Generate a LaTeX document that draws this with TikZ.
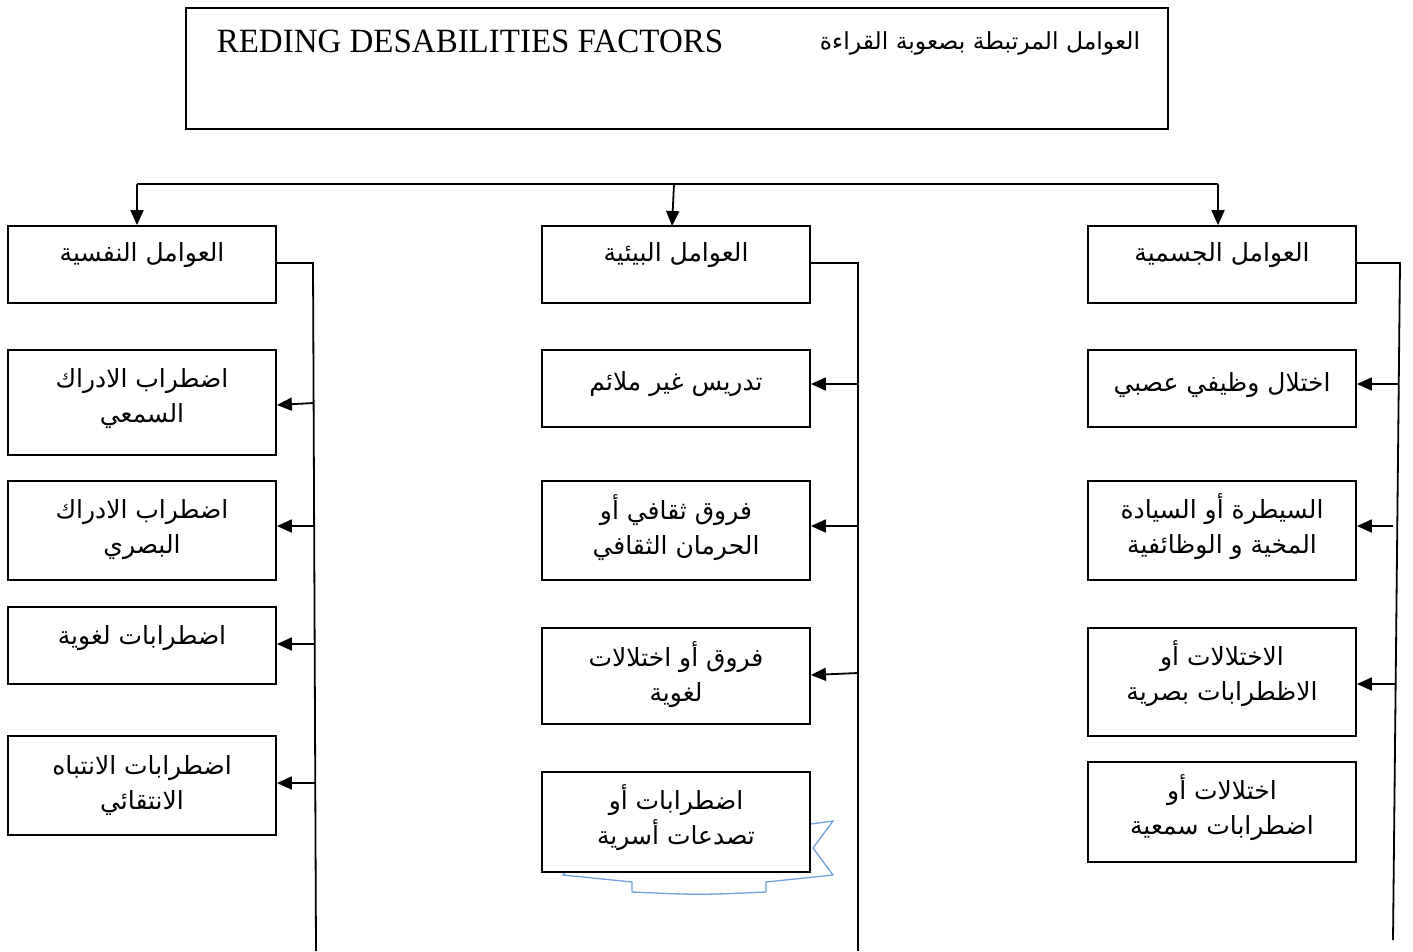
\documentclass[tikz,border=0pt]{standalone}
\usepackage{fontspec}
\setmainfont{Liberation Serif}
\newfontfamily\arabicfont[Script=Arabic]{DejaVu Sans}
\TeXXeTstate=1
\usetikzlibrary{arrows.meta,calc}
\definecolor{ribbonblue}{RGB}{112,160,222}
\newcommand\arl[1]{\beginR #1\endR}
\begin{document}
\begin{tikzpicture}[x=1pt,y=-1pt,line width=1.8pt,
  box/.style={draw,rectangle,fill=white,inner sep=0pt,minimum width=268pt},
  boxtxt/.style={anchor=base,inner sep=0pt,align=center,font=\arabicfont\fontsize{25}{35}\selectfont},
  arr/.style={-{Triangle[length=15pt,width=13pt]}},
  ribbon/.style={draw=ribbonblue,line width=1.3pt}]
\useasboundingbox (0,0) rectangle (1413,951);

% title
\node[draw,rectangle,inner sep=0pt,minimum width=982pt,minimum height=121pt] (title) at (677,68.5) {};
\node[inner sep=0pt,font=\fontsize{34}{40}\selectfont,xscale=0.97] (ttl) at (470,41) {REDING DESABILITIES FACTORS};
\node[inner sep=0pt,font=\arabicfont\fontsize{23.5}{30}\selectfont] (tta) at (980,43) {\arl{العوامل المرتبطة بصعوبة  القراءة}};

% ribbon (behind m4)
\draw[ribbon] (833,821) -- (813,848) -- (833,875) .. controls (800,879) .. (766,882) -- (766,892)
  .. controls (699,895) .. (632,892) -- (632,882) .. controls (598,879) .. (563,875)
  -- (583,848) -- (563,821) -- (632,830) -- (632,810) -- (766,810) -- (766,830) -- cycle;

% headers
\node[box,minimum height=77pt] (h1) at (142,264.5) {};
\node[box,minimum height=77pt] (h2) at (676,264.5) {};
\node[box,minimum height=77pt] (h3) at (1222,264.5) {};
% left column
\node[box,minimum height=105pt] (l1) at (142,402.5) {};
\node[box,minimum height=99pt] (l2) at (142,530.5) {};
\node[box,minimum height=77pt] (l3) at (142,645.5) {};
\node[box,minimum height=99pt] (l4) at (142,785.5) {};
% middle column
\node[box,minimum height=77pt] (m1) at (676,388.5) {};
\node[box,minimum height=99pt] (m2) at (676,530.5) {};
\node[box,minimum height=96pt] (m3) at (676,676) {};
\node[box,minimum height=100pt] (m4) at (676,822) {};
% right column
\node[box,minimum height=77pt] (r1) at (1222,388.5) {};
\node[box,minimum height=99pt] (r2) at (1222,530.5) {};
\node[box,minimum height=108pt] (r3) at (1222,682) {};
\node[box,minimum height=100pt] (r4) at (1222,812) {};

% texts (single line: first baseline; two lines: base = last baseline)
\node[boxtxt] (th1) at ($(h1.north)+(0,36)$) {\arl{العوامل النفسية}};
\node[boxtxt] (th2) at ($(h2.north)+(0,36)$) {\arl{العوامل البيئية}};
\node[boxtxt] (th3) at ($(h3.north)+(0,36)$) {\arl{العوامل الجسمية}};
\node[boxtxt] (tl1) at ($(l1.north)+(0,73)$) {\arl{اضطراب الادراك}\\\arl{السمعي}};
\node[boxtxt] (tl2) at ($(l2.north)+(0,73)$) {\arl{اضطراب الادراك}\\\arl{البصري}};
\node[boxtxt] (tl3) at ($(l3.north)+(0,38)$) {\arl{اضطرابات  لغوية}};
\node[boxtxt] (tl4) at ($(l4.north)+(0,74)$) {\arl{اضطرابات  الانتباه}\\\arl{الانتقائي}};
\node[boxtxt] (tm1) at ($(m1.north)+(0,41)$) {\arl{تدريس غير ملائم}};
\node[boxtxt] (tm2) at ($(m2.north)+(0,74)$) {\arl{فروق ثقافي أو}\\\arl{الحرمان الثقافي}};
\node[boxtxt] (tm3) at ($(m3.north)+(0,74)$) {\arl{فروق أو اختلالات}\\\arl{لغوية}};
\node[boxtxt] (tm4) at ($(m4.north)+(0,73)$) {\arl{اضطرابات أو}\\\arl{تصدعات أسرية}};
\node[boxtxt] (tr1) at ($(r1.north)+(0,42)$) {\arl{اختلال وظيفي عصبي}};
\node[boxtxt] (tr2) at ($(r2.north)+(0,73)$) {\arl{السيطرة أو السيادة}\\\arl{المخية و الوظائفية}};
\node[boxtxt] (tr3) at ($(r3.north)+(0,73)$) {\arl{الاختلالات أو}\\\arl{الاظطرابات بصرية}};
\node[boxtxt] (tr4) at ($(r4.north)+(0,73)$) {\arl{اختلالات أو}\\\arl{اضطرابات  سمعية}};

% top distribution
\coordinate (c1) at (137,184);
\coordinate (c2) at (674,184);
\coordinate (c3) at (1218,184);
\draw (c1) -- (c3);
\draw[arr] (c1) -- (c1 |- h1.north);
\draw[arr] (c2) -- (672,226);
\draw[arr] (c3) -- (c3 |- h3.north);

% vertical spines
\coordinate (lt) at (313,263);
\coordinate (lb) at (316,951);
\coordinate (mt) at (858,263);
\coordinate (mb) at (858,951);
\coordinate (rt) at (1400,263);
\coordinate (rb) at (1393,940);
\draw (h1.east |- lt) -- (lt) -- (lb);
\draw (h2.east |- mt) -- (mt) -- (mb);
\draw (h3.east |- rt) -- (rt) -- (rb);

% left arrows
\coordinate (la1) at (313.6,403);
\coordinate (la2) at (314.2,526);
\coordinate (la3) at (314.7,644);
\coordinate (la4) at (315.3,783);
\draw[arr] (la1) -- (l1.east |- 0,405);
\draw[arr] (la2) -- (la2 -| l2.east);
\draw[arr] (la3) -- (la3 -| l3.east);
\draw[arr] (la4) -- (la4 -| l4.east);
% middle arrows
\coordinate (ma1) at (858,384);
\coordinate (ma2) at (858,526);
\coordinate (ma3) at (858,673);
\draw[arr] (ma1) -- (ma1 -| m1.east);
\draw[arr] (ma2) -- (ma2 -| m2.east);
\draw[arr] (ma3) -- (m3.east |- 0,675);
% right arrows
\coordinate (ra1) at (1398.7,384);
\coordinate (ra2) at (1393,526);
\coordinate (ra3) at (1395.6,684);
\draw[arr] (ra1) -- (ra1 -| r1.east);
\draw[arr] (ra2) -- (ra2 -| r2.east);
\draw[arr] (ra3) -- (ra3 -| r3.east);
\end{tikzpicture}
\end{document}
